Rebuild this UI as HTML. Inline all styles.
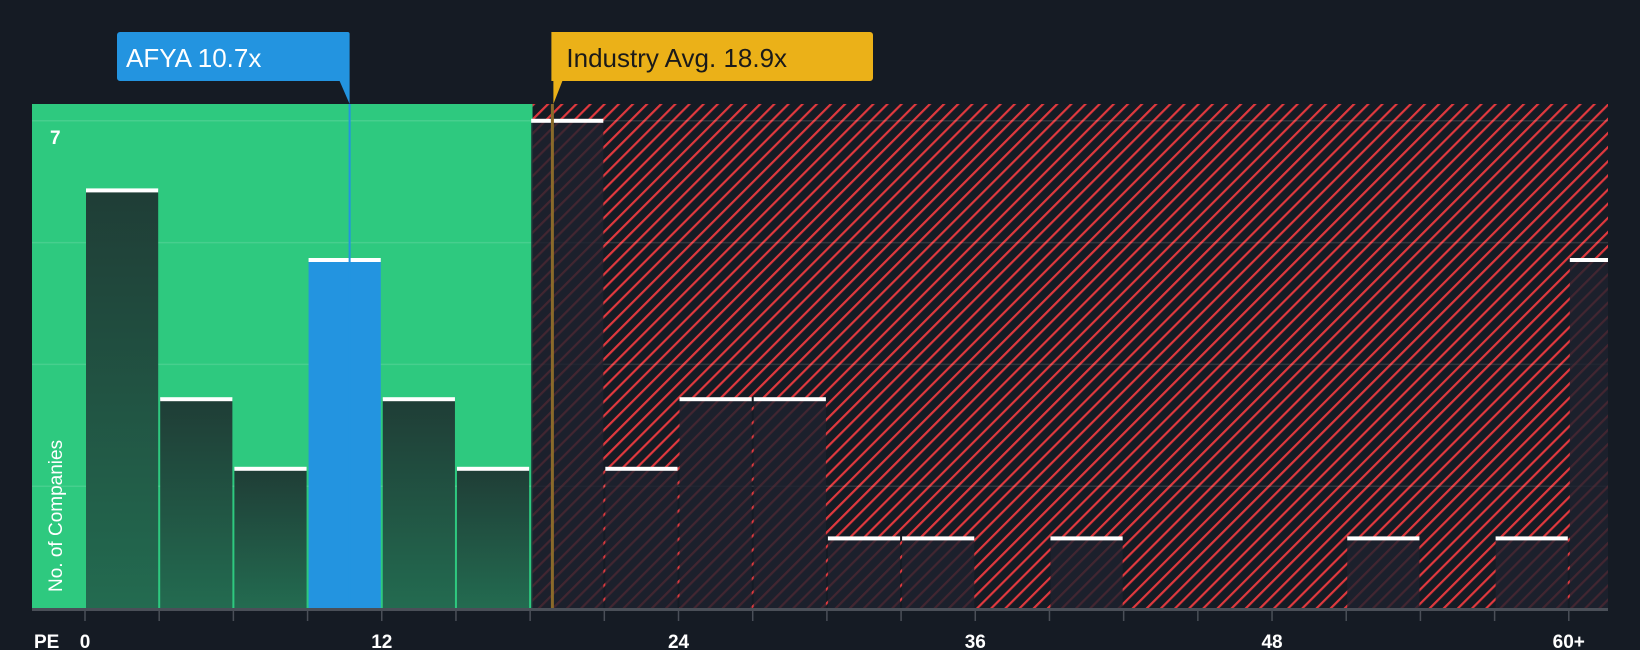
<!DOCTYPE html>
<html><head><meta charset="utf-8"><style>
html,body{margin:0;padding:0;background:#151b24;}
svg{display:block;font-family:"Liberation Sans",sans-serif;}
</style></head><body>
<svg id="chart" width="1640" height="650" viewBox="0 0 1640 650" xmlns="http://www.w3.org/2000/svg">
<defs>
<pattern id="hatch" patternUnits="userSpaceOnUse" width="10" height="10" patternTransform="rotate(45)">
<rect width="10" height="10" fill="#151b24"/>
<rect x="0" y="0" width="2.2" height="10" fill="#e0393e"/>
</pattern>
<linearGradient id="gbar" x1="0" y1="0" x2="0" y2="1"><stop offset="0" stop-color="#1f3d36"/><stop offset="1" stop-color="#236b50"/></linearGradient>
</defs>
<g id="plot"></g>
</svg>
<script>
const binStarts=[0,3,6,9,12,15,18,21,24,27,30,33,36,39,42,45,48,51,54,57,60];
const counts=[6,3,2,5,3,2,7,2,3,3,1,1,0,1,0,0,0,1,0,1,5];
const xTicks=[0,12,24,36,48,60];
const xTickLabels=["0","12","24","36","48","60+"];
const companyPE=10.7;
const industryPE=18.9;
const fairEnd=18.1;
const yMaxLabel=7;

const NS="http://www.w3.org/2000/svg";
const g=document.getElementById('plot');
const L=32,R=1608,T=104,B=608;
const x=v=>85+v*24.73;
const y=v=>B-v*69.6;
function el(t,a,parent){const e=document.createElementNS(NS,t);for(const k in a)e.setAttribute(k,a[k]);(parent||g).appendChild(e);return e;}

let r=el('rect',{x:L,y:T,width:x(fairEnd)-L,height:B-T,fill:'#2ec97f'});


r=el('rect',{x:x(fairEnd),y:T,width:R-x(fairEnd),height:B-T,fill:'url(#hatch)'});



[1.75,3.5,5.25,7].forEach(v=>{
 const l=el('line',{x1:L,x2:R,y1:y(v),y2:y(v),stroke:'rgba(255,255,255,0.12)','stroke-width':1.5});
 
 
});

binStarts.forEach((s,i)=>{
 const c=counts[i]; if(!c) return;
 const x0=x(s)+1, x1=Math.min(x(s+3)-1,R);
 const isCo=companyPE>=s&&companyPE<s+3;
 const inGreen=s+3<=fairEnd+0.5;
 const fill=isCo?'#2394e0':(inGreen?'url(#gbar)':'rgba(30,34,46,0.82)');
 const b=el('rect',{x:x0,y:y(c),width:x1-x0,height:B-y(c),fill:fill});
 
 
 const cap=el('rect',{x:x0,y:y(c)-2,width:x1-x0,height:4,fill:'#ffffff'});
 
 
});

let a=el('rect',{x:L,y:B,width:R-L,height:3,fill:'#4a4f58'});


for(let v=0;v<=60;v+=3){
 const t=el('line',{x1:x(v),x2:x(v),y1:B+3,y2:B+13,stroke:'#4a4f58','stroke-width':1.5});
 
 
}
xTicks.forEach((v,i)=>{
 const t=el('text',{x:x(v),y:648,fill:'#fff','font-size':19,'font-weight':'bold','text-anchor':'middle'});
 t.textContent=xTickLabels[i];
 
 
});
let t=el('text',{x:34,y:648,fill:'#fff','font-size':19,'font-weight':'bold'});t.textContent='PE';


t=el('text',{x:50,y:144,fill:'#fff','font-size':19,'font-weight':'bold'});t.textContent=String(yMaxLabel);


t=el('text',{x:0,y:0,fill:'#fff','font-size':19,transform:'translate(62,592) rotate(-90)'});t.textContent='No. of Companies';



// industry line + label
let xi=x(industryPE);
let l=el('line',{x1:xi,x2:xi,y1:T,y2:B,stroke:'#8a6a2a','stroke-width':3});


let p=el('path',{d:`M${xi-1} 32 H870 a3 3 0 0 1 3 3 V78 a3 3 0 0 1 -3 3 H${xi+10} L${xi+1} 104 V81 H${xi-1} Z`,fill:'#ebb118'});


t=el('text',{x:xi+14,y:67,fill:'#1a1a1a','font-size':26});t.textContent='Industry Avg. '+industryPE+'x';



// company line + label
let xc=x(companyPE);
l=el('line',{x1:xc,x2:xc,y1:T,y2:B,stroke:'#2394e0','stroke-width':2});


p=el('path',{d:`M120 32 H${xc-2} a2 2 0 0 1 2 2 V104 L${xc-10} 81 H120 a3 3 0 0 1 -3 -3 V35 a3 3 0 0 1 3 -3 Z`,fill:'#2394e0'});


t=el('text',{x:126,y:67,fill:'#fff','font-size':26});t.textContent='AFYA '+companyPE+'x';


</script>
</body></html>
